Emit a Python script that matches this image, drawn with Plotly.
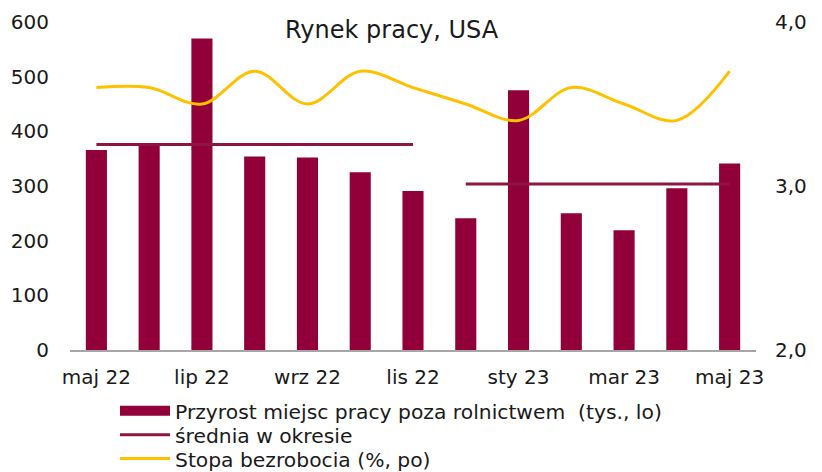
import plotly.graph_objects as go

months = ["maj 22", "cze 22", "lip 22", "sie 22", "wrz 22", "paź 22", "lis 22",
          "gru 22", "sty 23", "lut 23", "mar 23", "kwi 23", "maj 23"]
payrolls = [366, 374, 570, 354, 352, 325, 291, 241, 475, 250, 219, 296, 341]
unemployment = [3.6, 3.6, 3.5, 3.7, 3.5, 3.7, 3.6, 3.5, 3.4, 3.6, 3.5, 3.4, 3.7]
period_split = 7  # first period: maj 22 - lis 22, second: gru 22 - maj 23
tick_months = months[::2]

p1 = payrolls[:period_split]
p2 = payrolls[period_split:]
avg1 = sum(p1) / len(p1)
avg2 = sum(p2) / len(p2)
avg_x = months[:period_split] + [None] + months[period_split:]
avg_y = [avg1] * len(p1) + [None] + [avg2] * len(p2)

BAR_NAME = "Przyrost miejsc pracy poza rolnictwem  (tys., lo)"
MAROON = "#910038"
AVG = "#8E1442"
YELLOW = "#FFC000"
FONT = "DejaVu Sans"
TXT = "#1a1a1a"
LEG_FONT = dict(family=FONT, size=20.3, color=TXT)

fig = go.Figure()
fig.add_trace(go.Bar(x=months, y=payrolls, marker_color=MAROON, width=0.4,
                     marker_line_width=0, name=BAR_NAME, showlegend=False,
                     legendgroup="bars"))
# legend key for the bars (wide rectangle, as in the original legend)
fig.add_trace(go.Scatter(x=[None], y=[None], mode="lines", legendgroup="bars",
                         line=dict(color=MAROON, width=11), name=BAR_NAME,
                         legend="legend"))
fig.add_trace(go.Scatter(x=avg_x, y=avg_y, mode="lines", connectgaps=False,
                         line=dict(color=AVG, width=3),
                         name="średnia w okresie", legend="legend2"))
fig.add_trace(go.Scatter(x=months, y=unemployment, mode="lines", yaxis="y2",
                         line=dict(color=YELLOW, width=3, shape="spline", smoothing=1),
                         name="Stopa bezrobocia (%, po)", legend="legend3"))

leg_common = dict(x=0.0656, xanchor="left", yanchor="middle", font=LEG_FONT,
                  bgcolor="rgba(0,0,0,0)", itemwidth=50, tracegroupgap=0)

fig.update_layout(
    width=822, height=472,
    margin=dict(l=62, r=74, t=14, b=130, autoexpand=False),
    paper_bgcolor="white", plot_bgcolor="white",
    font=dict(family=FONT, size=20, color=TXT),
    separators=", ",
    showlegend=True,
    xaxis=dict(type="category", tickvals=tick_months, ticktext=tick_months,
               showgrid=False, showline=True, linecolor="#A6A6A6", linewidth=1.5,
               ticks="", ticklabelstandoff=8, zeroline=False, automargin=False,
               range=[-0.5, 12.5]),
    yaxis=dict(range=[0, 600], tickvals=[0, 100, 200, 300, 400, 500, 600],
               showgrid=False, showline=False, zeroline=False, ticks="",
               ticklabelstandoff=20, automargin=False),
    yaxis2=dict(range=[2, 4], tickvals=[2, 3, 4], tickformat=".1f",
                overlaying="y", side="right", showgrid=False, showline=False,
                zeroline=False, ticks="", ticklabelstandoff=18, automargin=False),
    legend=dict(y=-0.186, **leg_common),
    legend2=dict(y=-0.259, **leg_common),
    legend3=dict(y=-0.332, **leg_common),
    annotations=[dict(text="Rynek pracy, USA", xref="paper", yref="paper",
                      x=0.469, y=0.975, xanchor="center", yanchor="middle",
                      showarrow=False, font=dict(family=FONT, size=24, color=TXT))],
)

fig.write_html("out.html")
